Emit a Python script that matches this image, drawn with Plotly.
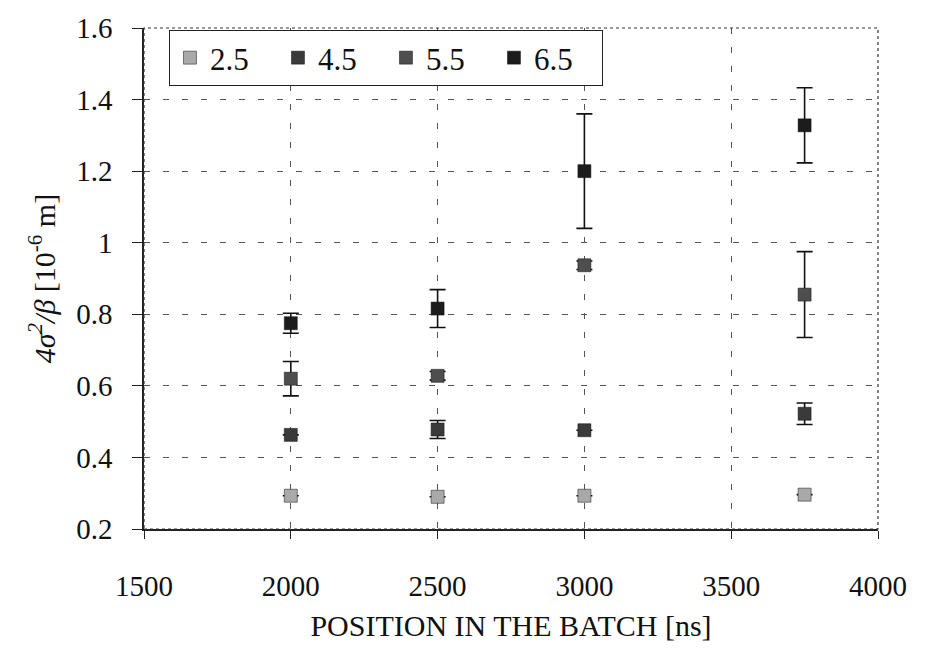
import plotly.graph_objects as go

# Bunch position along the batch [ns]
positions = [2000, 2500, 3000, 3750]

# Series labels (legend) and their measured values 4σ²/β [1e-6 m]
series_names = ["2.5", "4.5", "5.5", "6.5"]
values_25 = [0.293, 0.290, 0.293, 0.296]
values_45 = [0.463, 0.478, 0.476, 0.522]
values_55 = [0.620, 0.628, 0.937, 0.855]
values_65 = [0.775, 0.816, 1.200, 1.328]

# Symmetric error bars
errors_25 = [0.0, 0.0, 0.0, 0.0]
errors_45 = [0.0, 0.025, 0.0, 0.03]
errors_55 = [0.048, 0.012, 0.012, 0.12]
errors_65 = [0.028, 0.053, 0.16, 0.105]

x_ticks = [1500, 2000, 2500, 3000, 3500, 4000]
y_ticks = [0.2, 0.4, 0.6, 0.8, 1.0, 1.2, 1.4, 1.6]
y_tick_text = ["0.2", "0.4", "0.6", "0.8", "1", "1.2", "1.4", "1.6"]

all_values = [values_25, values_45, values_55, values_65]
all_errors = [errors_25, errors_45, errors_55, errors_65]
colors = ["#a9a9a9", "#3a3a3a", "#4e4e4e", "#1c1c1c"]

FONT = "Liberation Serif, Times New Roman, serif"
INK = "#111111"
tick_font = dict(family=FONT, size=29, color=INK)
title_font = dict(family=FONT, size=30, color=INK)

fig = go.Figure()
for name, vals, errs, col in zip(series_names, all_values, all_errors, colors):
    fig.add_trace(go.Scatter(
        x=positions, y=vals, name=name, mode="markers",
        marker=dict(symbol="square", size=13, color=col,
                    line=dict(color="#111111", width=0.5)),
        error_y=dict(type="data", array=errs, visible=True,
                     color="#111111", thickness=1.6, width=8),
    ))

grid_dash = "6px,13px"

fig.update_layout(
    width=925, height=649,
    margin=dict(l=144, r=47, t=18, b=119),
    paper_bgcolor="white", plot_bgcolor="white",
    font=dict(family=FONT, size=29, color=INK),
    showlegend=True,
    legend=dict(
        orientation="h", x=0.034, y=0.996, xanchor="left", yanchor="top",
        bordercolor="#222222", borderwidth=1, bgcolor="white",
        font=dict(family=FONT, size=31, color=INK),
        entrywidth=63, itemwidth=30,
    ),
    xaxis=dict(
        range=[1500, 4000], tickvals=x_ticks, tickfont=tick_font,
        showgrid=True, gridcolor="#555555", griddash=grid_dash, gridwidth=1,
        showline=True, linecolor="#222222", linewidth=1.5,
        ticks="outside", ticklen=8, tickcolor="#222222",
        ticklabelstandoff=22, zeroline=False,
        title=dict(text="POSITION IN THE BATCH [ns]", standoff=14,
                   font=title_font),
    ),
    yaxis=dict(
        range=[0.2, 1.6], tickvals=y_ticks, ticktext=y_tick_text,
        tickfont=tick_font,
        showgrid=True, gridcolor="#555555", griddash=grid_dash, gridwidth=1,
        showline=True, linecolor="#222222", linewidth=1.5,
        ticks="outside", ticklen=10, tickcolor="#222222",
        ticklabelstandoff=14, zeroline=False,
        title=dict(text="<i>4σ<sup>2</sup>/β</i> [10<sup>-6</sup> m]",
                   standoff=12, font=title_font),
    ),
    shapes=[dict(type="rect", xref="paper", yref="paper",
                 x0=0, y0=0, x1=1, y1=1,
                 line=dict(color="#333333", width=1.2, dash="dot"))],
)

fig.write_html("out.html")
